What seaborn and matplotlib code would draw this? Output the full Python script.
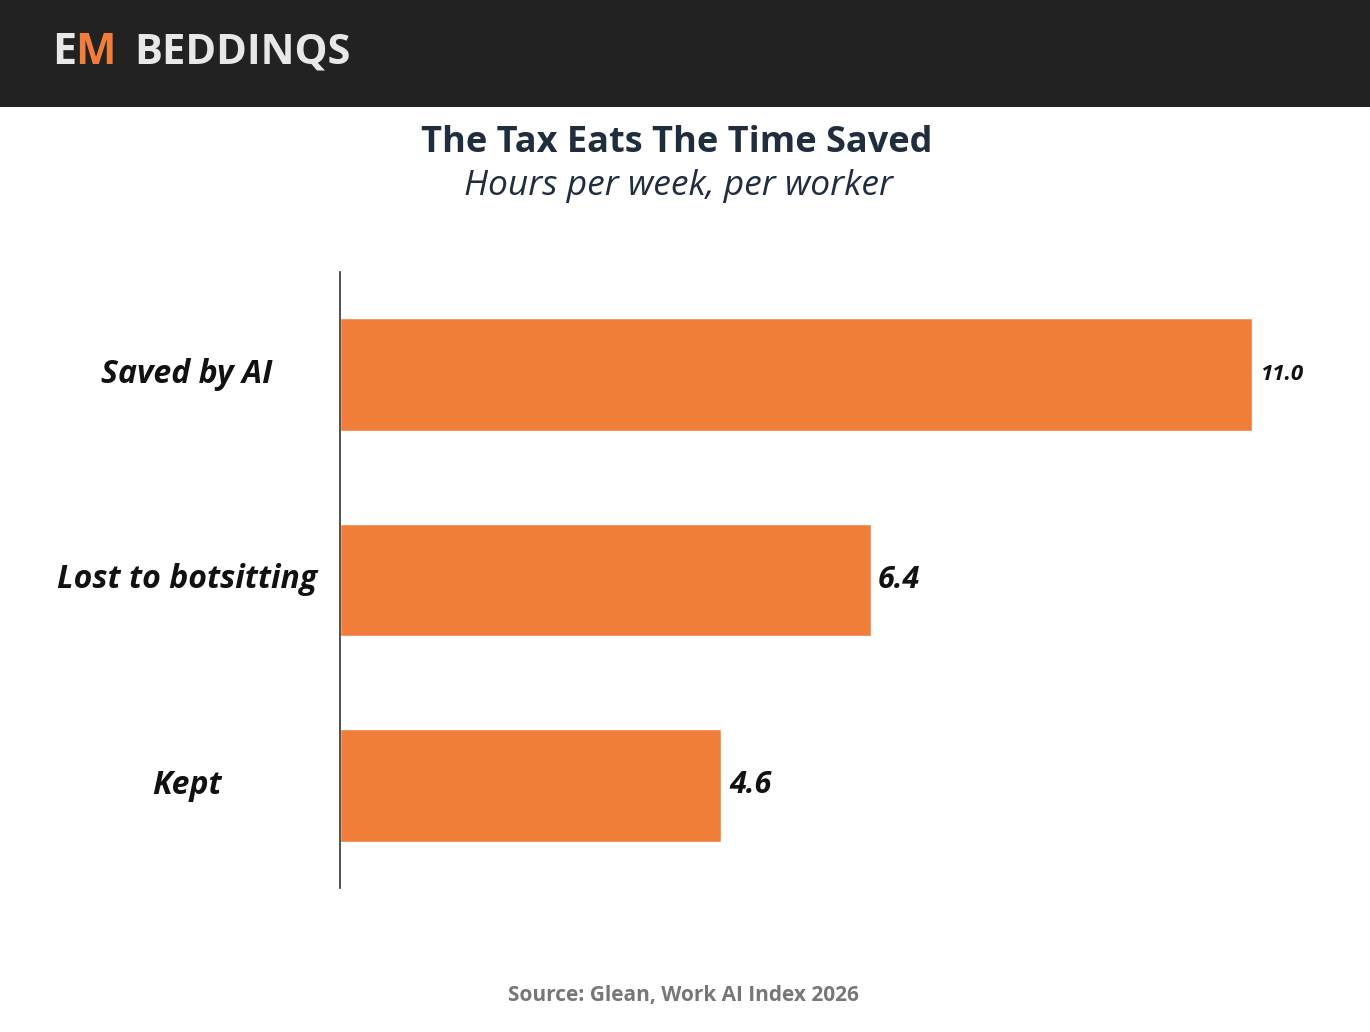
import matplotlib
matplotlib.use("Agg")
import matplotlib.pyplot as plt
import seaborn as sns
import pandas as pd

# data
categories = ["Saved by AI", "Lost to botsitting", "Kept"]
hours = [11.0, 6.4, 4.6]
value_labels = ["11.0", "6.4", "4.6"]

sns.set_style("white")
plt.rcParams['font.family'] = ['Open Sans', 'DejaVu Sans']

df = pd.DataFrame({"category": categories, "hours": hours})

fig = plt.figure(figsize=(13.7, 10.32), dpi=100)
fig.patch.set_facecolor("white")

# header band
fig.patches.append(plt.Rectangle((0, 1 - 107 / 1032), 1, 107 / 1032, transform=fig.transFigure,
                                 facecolor="#222222", edgecolor="none", zorder=0))
fig.text(0.038, 0.949, "E", color="#e8e8e8", fontsize=31, fontweight="bold", va="center")
fig.text(0.0545, 0.949, "M", color="#f07e3a", fontsize=31, fontweight="bold", va="center")
fig.text(0.098, 0.949, "BEDDINQS", color="#e8e8e8", fontsize=30, fontweight="bold", va="center")

fig.text(0.494, 0.861, "The Tax Eats The Time Saved", ha="center", va="center",
         fontsize=26, fontweight="bold", color="#1f2d3d")
fig.text(0.495, 0.820, "Hours per week, per worker", ha="center", va="center",
         fontsize=25.5, fontstyle="italic", color="#1f2d3d")
fig.text(0.499, 0.035, "Source: Glean, Work AI Index 2026", ha="center", va="center",
         fontsize=15, fontweight="bold", color="#777777")

ax = fig.add_axes([340 / 1370, 1 - 888 / 1032, 1000 / 1370, 616 / 1032])
sns.barplot(data=df, y="category", x="hours", color="#f07e3a", width=0.55,
            saturation=1, ax=ax)
ax.set_xlim(0, 12.06)
ax.set_ylim(2.5, -0.5)
ax.set_xlabel("")
ax.set_ylabel("")
ax.set_xticks([])
ax.set_yticks([])
for s in ["top", "right", "bottom"]:
    ax.spines[s].set_visible(False)
ax.spines["left"].set_color("#333333")
ax.spines["left"].set_linewidth(1.2)
for i, c in enumerate(categories):
    ax.text(-0.153, i, c, transform=ax.get_yaxis_transform(), ha="center", va="center",
            fontsize=23, fontweight="bold", fontstyle="italic", color="#111111")
sizes = [16, 22, 22]
for i, (v, t) in enumerate(zip(hours, value_labels)):
    ax.text(v + 0.09, i, t, va="center", ha="left", fontsize=sizes[i],
            fontweight="bold", fontstyle="italic", color="#111111")

fig.savefig("out.png", dpi=100)
